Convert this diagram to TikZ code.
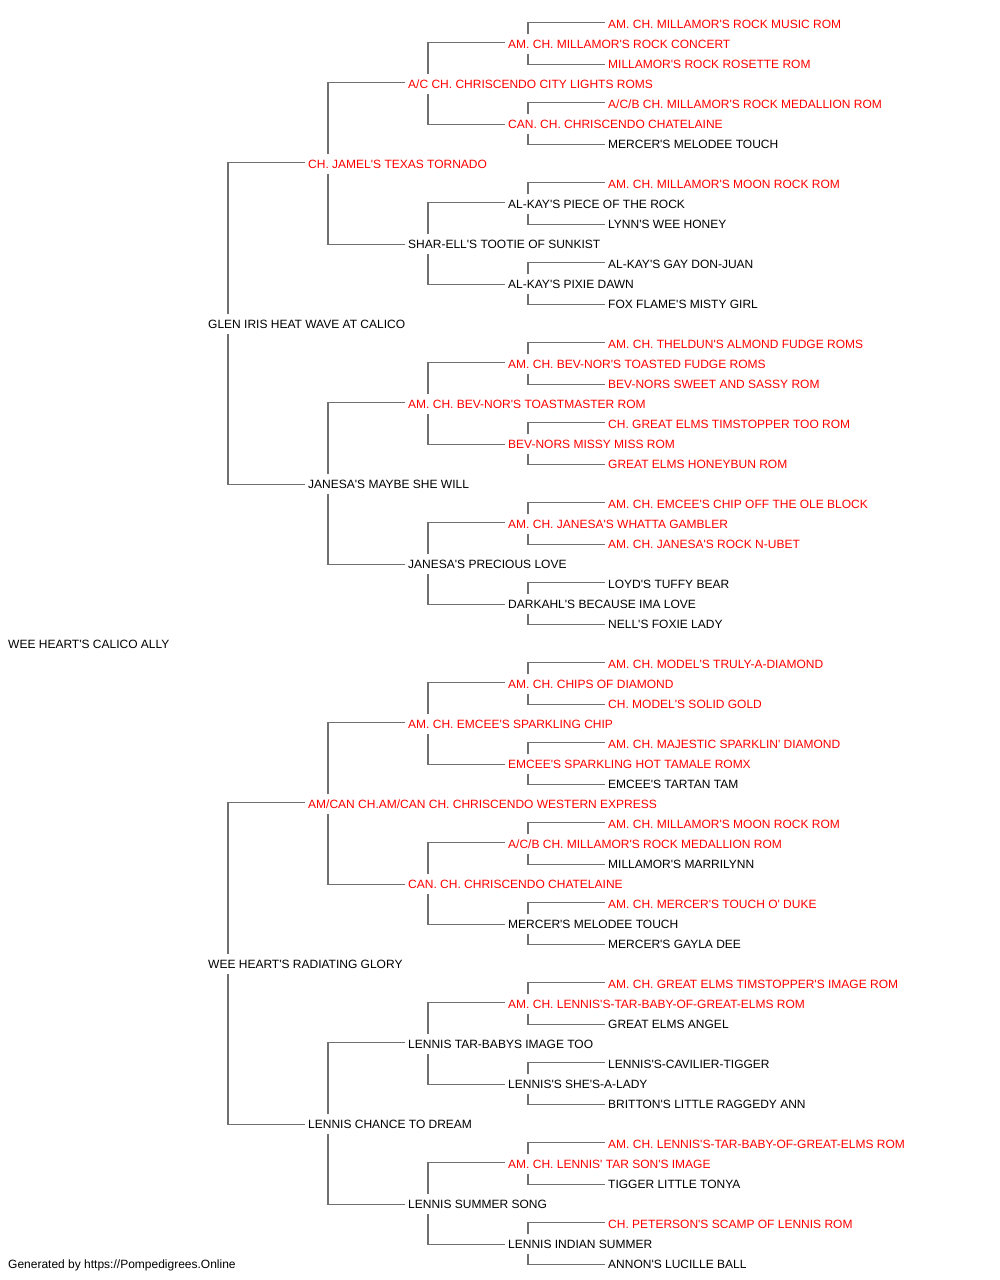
\documentclass[tikz,border=0pt]{standalone}
\usepackage{fontspec}
\newfontfamily\lsans{Liberation Sans}
\definecolor{conncol}{RGB}{112,112,112}
\definecolor{redname}{RGB}{255,0,0}
\begin{document}
\begin{tikzpicture}[x=1pt,y=-1pt,
  lbl/.style={anchor=west,inner sep=0pt,text height=8.6pt,text depth=0pt,font=\lsans\fontsize{12}{14}\selectfont,text=black},
  rd/.style={lbl,text=redname},
  conn/.style={draw=conncol,line width=1.2pt}]
\useasboundingbox[fill=white] (0,0) rectangle (1000,1280);
\newcommand\pn[4]{\node[#4] (n#1) at (#2,{23.7+20*#1}) {#3};}
% generation 5
\pn{0}{608}{AM. CH. MILLAMOR'S ROCK MUSIC ROM}{rd}
\pn{2}{608}{MILLAMOR'S ROCK ROSETTE ROM}{rd}
\pn{4}{608}{A/C/B CH. MILLAMOR'S ROCK MEDALLION ROM}{rd}
\pn{6}{608}{MERCER'S MELODEE TOUCH}{lbl}
\pn{8}{608}{AM. CH. MILLAMOR'S MOON ROCK ROM}{rd}
\pn{10}{608}{LYNN'S WEE HONEY}{lbl}
\pn{12}{608}{AL-KAY'S GAY DON-JUAN}{lbl}
\pn{14}{608}{FOX FLAME'S MISTY GIRL}{lbl}
\pn{16}{608}{AM. CH. THELDUN'S ALMOND FUDGE ROMS}{rd}
\pn{18}{608}{BEV-NORS SWEET AND SASSY ROM}{rd}
\pn{20}{608}{CH. GREAT ELMS TIMSTOPPER TOO ROM}{rd}
\pn{22}{608}{GREAT ELMS HONEYBUN ROM}{rd}
\pn{24}{608}{AM. CH. EMCEE'S CHIP OFF THE OLE BLOCK}{rd}
\pn{26}{608}{AM. CH. JANESA'S ROCK N-UBET}{rd}
\pn{28}{608}{LOYD'S TUFFY BEAR}{lbl}
\pn{30}{608}{NELL'S FOXIE LADY}{lbl}
\pn{32}{608}{AM. CH. MODEL'S TRULY-A-DIAMOND}{rd}
\pn{34}{608}{CH. MODEL'S SOLID GOLD}{rd}
\pn{36}{608}{AM. CH. MAJESTIC SPARKLIN' DIAMOND}{rd}
\pn{38}{608}{EMCEE'S TARTAN TAM}{lbl}
\pn{40}{608}{AM. CH. MILLAMOR'S MOON ROCK ROM}{rd}
\pn{42}{608}{MILLAMOR'S MARRILYNN}{lbl}
\pn{44}{608}{AM. CH. MERCER'S TOUCH O' DUKE}{rd}
\pn{46}{608}{MERCER'S GAYLA DEE}{lbl}
\pn{48}{608}{AM. CH. GREAT ELMS TIMSTOPPER'S IMAGE ROM}{rd}
\pn{50}{608}{GREAT ELMS ANGEL}{lbl}
\pn{52}{608}{LENNIS'S-CAVILIER-TIGGER}{lbl}
\pn{54}{608}{BRITTON'S LITTLE RAGGEDY ANN}{lbl}
\pn{56}{608}{AM. CH. LENNIS'S-TAR-BABY-OF-GREAT-ELMS ROM}{rd}
\pn{58}{608}{TIGGER LITTLE TONYA}{lbl}
\pn{60}{608}{CH. PETERSON'S SCAMP OF LENNIS ROM}{rd}
\pn{62}{608}{ANNON'S LUCILLE BALL}{lbl}
% generation 4
\pn{1}{508}{AM. CH. MILLAMOR'S ROCK CONCERT}{rd}
\pn{5}{508}{CAN. CH. CHRISCENDO CHATELAINE}{rd}
\pn{9}{508}{AL-KAY'S PIECE OF THE ROCK}{lbl}
\pn{13}{508}{AL-KAY'S PIXIE DAWN}{lbl}
\pn{17}{508}{AM. CH. BEV-NOR'S TOASTED FUDGE ROMS}{rd}
\pn{21}{508}{BEV-NORS MISSY MISS ROM}{rd}
\pn{25}{508}{AM. CH. JANESA'S WHATTA GAMBLER}{rd}
\pn{29}{508}{DARKAHL'S BECAUSE IMA LOVE}{lbl}
\pn{33}{508}{AM. CH. CHIPS OF DIAMOND}{rd}
\pn{37}{508}{EMCEE'S SPARKLING HOT TAMALE ROMX}{rd}
\pn{41}{508}{A/C/B CH. MILLAMOR'S ROCK MEDALLION ROM}{rd}
\pn{45}{508}{MERCER'S MELODEE TOUCH}{lbl}
\pn{49}{508}{AM. CH. LENNIS'S-TAR-BABY-OF-GREAT-ELMS ROM}{rd}
\pn{53}{508}{LENNIS'S SHE'S-A-LADY}{lbl}
\pn{57}{508}{AM. CH. LENNIS' TAR SON'S IMAGE}{rd}
\pn{61}{508}{LENNIS INDIAN SUMMER}{lbl}
% generation 3
\pn{3}{408}{A/C CH. CHRISCENDO CITY LIGHTS ROMS}{rd}
\pn{11}{408}{SHAR-ELL'S TOOTIE OF SUNKIST}{lbl}
\pn{19}{408}{AM. CH. BEV-NOR'S TOASTMASTER ROM}{rd}
\pn{27}{408}{JANESA'S PRECIOUS LOVE}{lbl}
\pn{35}{408}{AM. CH. EMCEE'S SPARKLING CHIP}{rd}
\pn{43}{408}{CAN. CH. CHRISCENDO CHATELAINE}{rd}
\pn{51}{408}{LENNIS TAR-BABYS IMAGE TOO}{lbl}
\pn{59}{408}{LENNIS SUMMER SONG}{lbl}
% generation 2
\pn{7}{308}{CH. JAMEL'S TEXAS TORNADO}{rd}
\pn{23}{308}{JANESA'S MAYBE SHE WILL}{lbl}
\pn{39}{308}{AM/CAN CH.AM/CAN CH. CHRISCENDO WESTERN EXPRESS}{rd}
\pn{55}{308}{LENNIS CHANCE TO DREAM}{lbl}
% generation 1
\pn{15}{208}{GLEN IRIS HEAT WAVE AT CALICO}{lbl}
\pn{47}{208}{WEE HEART'S RADIATING GLORY}{lbl}
% root
\pn{31}{8}{WEE HEART'S CALICO ALLY}{lbl}
% footer
\node[lbl] (footer) at (8,1264.5) {Generated by https://Pompedigrees.Online};
% connectors
\foreach \p/\s in {15/8,47/8,
  7/4,23/4,39/4,55/4,
  3/2,11/2,19/2,27/2,35/2,43/2,51/2,59/2,
  1/1,5/1,9/1,13/1,17/1,21/1,25/1,29/1,33/1,37/1,41/1,45/1,49/1,53/1,57/1,61/1}{
  \pgfmathtruncatemacro\ca{\p-\s}
  \pgfmathtruncatemacro\cb{\p+\s}
  \draw[conn] ([xshift=-3pt,yshift=1pt]n\ca.west) -| ([xshift=20pt,yshift=10pt]n\p.west);
  \draw[conn] ([xshift=-3pt,yshift=-0.8pt]n\cb.west) -| ([xshift=20pt,yshift=-10pt]n\p.west);
}
\end{tikzpicture}
\end{document}
